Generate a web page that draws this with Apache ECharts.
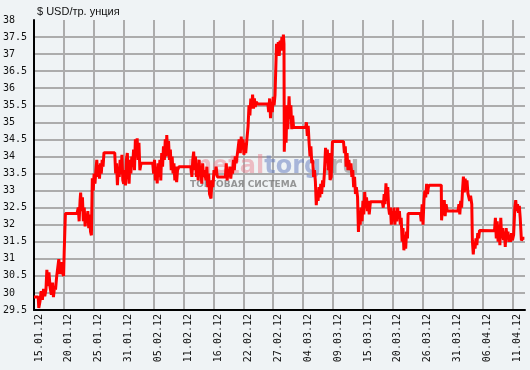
<!DOCTYPE html>
<html>
<head>
<meta charset="utf-8">
<script src="https://cdn.jsdelivr.net/npm/echarts@6/dist/echarts.min.js"></script>
<style>
html,body{margin:0;padding:0;background:#eff3f5;}
#chart{width:530px;height:370px;}
</style>
</head>
<body>
<div id="chart"></div>
<script>
// x position unit: 10 units = one date label interval
const tickLabels = ['15.01.12','20.01.12','25.01.12','31.01.12','05.02.12','11.02.12','16.02.12','22.02.12',
  '27.02.12','04.03.12','09.03.12','15.03.12','20.03.12','26.03.12','31.03.12','06.04.12','11.04.12'];
const yMin = 29.5, yMax = 38, yStep = 0.5;
const unitLabel = '$ USD/тр. унция';

const janData = [
 [0,29.88],[1.4,29.88],[1.6,29.56],[2,29.75],[2.4,30.05],[2.8,29.8],[3.2,30.12],[3.6,29.9],[4,30.1],
 [4.3,30.68],[4.7,30.2],[5,30.6],[5.4,30.15],[5.8,29.95],[6.2,30.3],[6.5,29.88],[6.9,30.2],[7.2,30.1],
 [7.6,30.5],[8,30.55],[8.3,30.99],[8.7,30.55],[9.1,30.9],[9.5,30.6],[9.9,30.5],[10.1,31.2],[10.5,32.33],
 [14.4,32.33],[14.8,32.5],[15.1,32.1],[15.4,32.7],[15.6,32.94],[15.9,32.4],[16.2,32.8],[16.5,32.1],
 [16.8,32.5],[17.1,31.95],[17.4,32.3],[17.7,32.15],[18,32.4],[18.3,31.9],[18.6,32.3],[18.9,31.8],
 [19.2,31.69],[19.3,31.7],[19.5,33.36],[19.8,33.0],[20.1,33.5],[20.4,33.2],[20.7,33.6],[21,33.9],
 [21.3,33.4],[21.6,33.75],[21.9,33.35],[22.2,33.8],[22.5,33.5],[22.8,33.9],[23.1,33.7],[23.4,34.11],
 [27,34.11],[27.3,33.5],[27.6,33.8],[27.9,33.16],[28.2,33.7],[28.5,33.4],[28.8,33.9],[29.1,33.5],
 [29.4,34.05],[29.7,33.3],[30,33.2],[30.3,33.6],[30.6,33.15],[30.9,33.9],[31.2,34.1],[31.5,33.6],
 [31.8,33.2],[32.1,33.9],[32.4,33.5],[32.7,34.0],[33,33.7],[33.3,34.2],[33.6,33.6],[33.9,34.5],
 [34.2,34.0],[34.5,34.53],[34.8,33.9],[35.1,34.4],[35.4,33.6],[35.8,33.8]
];
const febData = [
 [39.7,33.8],[40,33.5],[40.3,33.9],[40.6,33.3],[40.9,33.7],[41.2,33.21],[41.5,33.8],[41.8,33.4],
 [42.1,33.9],[42.4,33.3],[42.7,34.1],[43,33.7],[43.3,34.3],[43.6,33.9],[43.9,34.5],[44.2,34.0],
 [44.4,34.63],[44.7,34.1],[45,34.45],[45.3,33.9],[45.6,34.2],[45.9,33.6],[46.2,34.0],[46.5,33.5],
 [46.8,33.8],[47.1,33.3],[47.4,33.7],[47.7,33.25],[48,33.6],[48.5,33.7],[52.5,33.7],[52.8,33.4],
 [53.1,33.9],[53.4,34.14],[53.7,33.6],[54,34.0],[54.3,33.4],[54.6,33.8],[54.9,33.3],[55.2,33.9],
 [55.5,33.5],[55.8,33.7],[56.1,33.2],[56.4,33.8],[56.7,33.4],[57,33.6],[57.5,33.3],[57.8,33.7],
 [58.1,33.1],[58.4,33.5],[58.7,32.9],[59.2,32.77],[59.5,33.3],[59.8,33.1],[60.2,33.6],[60.6,33.45],
 [60.9,33.7],[61.3,33.4],[64,33.4],[64.3,33.8],[64.6,33.3],[64.9,33.6],[65.2,33.4],[65.5,33.7],
 [65.8,33.35],[66.1,33.6],[66.4,33.5],[66.7,33.9],[67,33.6],[67.3,34.0],[67.6,33.8],[68.2,34.2],
 [68.6,34.5],[69,34.1],[69.3,34.58],[69.6,34.2],[69.9,34.5],[70.2,34.05],[70.5,34.4],[70.8,34.1],
 [71.2,34.5],[71.6,34.9],[71.9,35.5],[72.2,35.2],[72.5,35.7],[72.8,35.4],[73.1,35.81],[73.4,35.4],
 [73.7,35.7],[74,35.45],[74.3,35.6],[74.8,35.54],[78.2,35.54],[78.5,35.3],[78.8,35.7],[79.1,35.12],
 [79.4,35.6],[79.7,35.3],[80,35.75],[80.3,35.5],[80.6,35.8],[81.1,37.3],[81.4,37.0],[81.7,37.35],
 [82,36.95],[82.3,37.4],[82.6,37.1],[82.9,37.5],[83.2,37.2],[83.4,37.57],[83.6,37.3],[83.7,34.14]
];
const marData = [
 [84,35.2],[84.3,34.4],[84.6,35.5],[84.9,34.8],[85.3,35.76],[85.6,35.1],[85.9,35.5],[86.2,34.8],
 [86.5,35.2],[86.8,34.85],[90.8,34.85],[91.1,35.0],[91.4,34.6],[91.7,34.9],[92,34.4],[92.3,34.0],
 [92.6,34.3],[92.9,33.8],[93.2,33.9],[93.5,33.4],[93.8,33.6],[94.1,33.26],[94.4,32.57],[94.7,33.0],
 [95,32.7],[95.3,33.1],[95.6,32.8],[95.9,33.2],[96.2,32.9],[96.5,33.3],[96.8,33.1],[97.1,33.5],
 [97.5,34.25],[97.8,33.9],[98.1,34.2],[98.4,33.6],[98.7,34.1],[99,33.31],[99.4,33.4],[99.8,34.44],
 [103.5,34.44],[103.8,34.1],[104.1,34.3],[104.4,33.7],[104.7,34.1],[105,33.6],[105.3,33.9],[105.6,33.6],
 [106,33.8],[106.3,33.4],[106.6,33.6],[106.9,33.1],[107.2,33.4],[107.5,32.9],[107.8,33.1],[108.2,32.82],
 [108.5,31.79],[108.8,32.3],[109.1,32.0],[109.4,32.5],[109.7,32.1],[110,32.7],[110.3,32.3],[110.6,32.96],
 [110.9,32.5],[111.2,32.8],[111.5,32.4],[111.8,32.7],[112.1,32.3],[112.5,32.67],[116.5,32.67],[116.8,32.5],
 [117.1,32.9],[117.4,32.6],[117.7,33.21],[118,32.7],[118.3,33.1],[118.6,32.5],[118.9,32.3],[119.2,32.5],
 [119.5,32.0],[119.8,32.4],[120.1,32.1],[120.4,32.5],[120.7,32.0],[121,32.4],[121.3,32.1],[121.6,32.5],
 [121.9,32.2],[122.2,32.4],[122.5,32.0],[122.8,32.2],[123.1,31.5],[123.4,31.9],[123.7,31.25],[124,31.7],
 [124.3,31.3],[124.6,31.8],[124.9,31.6],[125.1,32.33],[129.2,32.33],[129.5,32.1],[129.8,32.6],[130.1,32.0],
 [130.4,32.7],[130.7,33.0],[131,32.8],[131.3,33.2],[131.6,32.9],[131.9,33.1],[132.2,33.16],[136.2,33.16],
 [136.3,32.13],[136.6,32.5],[136.9,32.3],[137.2,32.72],[137.5,32.25],[137.8,32.6],[138.2,32.4],[141.8,32.4],
 [142.1,32.6],[142.4,32.3],[142.7,32.7],[143,32.5],[143.3,33.0],[143.6,33.41],[143.9,32.95],[144.2,33.35],
 [144.5,33.0],[144.8,33.3],[145.1,32.92],[145.4,32.9],[145.7,32.7],[146,32.85],[146.4,32.6]
];
const aprData = [
 [146.6,31.54],[146.9,31.13],[147.2,31.5],[147.5,31.3],[147.8,31.6],[148.1,31.4],[148.4,31.75],[148.7,31.6],
 [149,31.83],[149.3,31.82],[154,31.82],[154.3,32.2],[154.6,31.6],[154.9,32.1],[155.2,31.5],[155.5,32.0],
 [155.8,31.4],[156.1,32.2],[156.4,31.6],[156.7,31.9],[157,31.55],[157.3,31.8],[157.6,31.35],[157.9,31.9],
 [158.2,31.6],[158.5,31.8],[158.8,31.5],[159.1,31.7],[159.4,31.5],[159.7,31.75],[160,31.55],[160.4,31.7],
 [160.8,32.5],[161.1,32.72],[161.4,32.4],[161.7,32.6],[162,32.35],[162.3,32.55],[162.6,32.2],[163,31.54],
 [163.5,31.6],[164,31.6]
];

const priceSeries = janData.concat(febData, marData, aprData);

const chart = echarts.init(document.getElementById('chart'), null, {renderer: 'canvas'});
chart.setOption({
  backgroundColor: '#eff3f5',
  animation: false,
  title: {
    text: unitLabel, left: 32, top: 1,
    textStyle: {fontFamily: 'Liberation Sans', fontSize: 11, fontWeight: 'normal', color: '#111'}
  },
  graphic: [{
    type: 'text', left: 187, top: 155, z: 1, silent: true,
    style: {
      text: '{a|metal}{b|torg}{c|.ru}',
      rich: {
        a: {fontFamily: 'DejaVu Sans', fontWeight: 'bold', fontSize: 24, fill: 'rgba(232,120,135,0.45)'},
        b: {fontFamily: 'DejaVu Sans', fontWeight: 'bold', fontSize: 24, fill: 'rgba(95,120,190,0.5)'},
        c: {fontFamily: 'DejaVu Sans', fontWeight: 'bold', fontSize: 24, fill: 'rgba(120,120,120,0.5)'}
      }
    }
  }, {
    type: 'text', left: 190, top: 180, z: 1, silent: true,
    style: {
      text: 'ТОРГОВАЯ СИСТЕМА',
      fontFamily: 'DejaVu Sans', fontWeight: 'bold', fontSize: 9, fill: 'rgba(110,110,110,0.7)'
    }
  }],
  grid: {left: 32, right: 5, top: 20, bottom: 60, containLabel: false},
  xAxis: {
    type: 'value', min: 0, max: 164.2, interval: 10,
    axisLine: {show: true, onZero: false, lineStyle: {color: '#000', width: 2}},
    axisTick: {show: false},
    splitLine: {show: true, showMinLine: false, showMaxLine: false, lineStyle: {color: '#acacac', width: 2}},
    axisLabel: {
      rotate: 90, margin: 4, verticalAlign: 'top', showMaxLabel: false,
      fontFamily: 'DejaVu Sans Mono', fontSize: 10, color: '#111',
      formatter: function (v) { const i = Math.round(v / 10); return tickLabels[i] || ''; }
    }
  },
  yAxis: {
    type: 'value', min: yMin, max: yMax, interval: yStep,
    axisLine: {show: true, lineStyle: {color: '#000', width: 2}},
    axisTick: {show: false},
    splitLine: {show: true, showMinLine: false, showMaxLine: false, lineStyle: {color: '#acacac', width: 2}},
    axisLabel: {
      align: 'left', margin: 31, fontFamily: 'DejaVu Sans Mono', fontSize: 10, color: '#111'
    }
  },
  series: [{
    type: 'line', data: priceSeries, showSymbol: false, z: 3,
    lineStyle: {color: '#ff0000', width: 3}, itemStyle: {color: '#ff0000'}
  }]
});
</script>
</body>
</html>
